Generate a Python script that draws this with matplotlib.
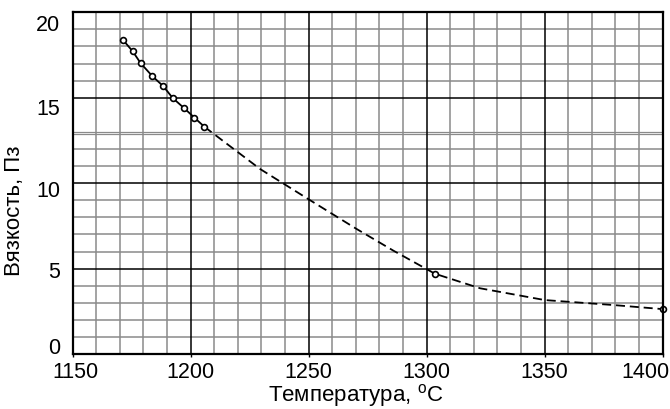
import matplotlib
matplotlib.use("Agg")
import matplotlib.pyplot as plt
import matplotlib.transforms as mtransforms

plt.rcParams['font.family'] = ['Liberation Sans', 'DejaVu Sans']
plt.rcParams['mathtext.fontset'] = 'custom'
plt.rcParams['mathtext.rm'] = 'Liberation Sans'
plt.rcParams['lines.scale_dashes'] = False

# measured points (solid segment with markers)
temp_meas = [1171.2, 1175.4, 1178.8, 1183.7, 1188.4, 1192.4, 1197.3, 1201.6, 1205.8]
visc_meas = [18.40, 17.72, 17.02, 16.27, 15.67, 14.98, 14.38, 13.83, 13.30]

# extrapolated dashed curve
temp_dash = [1205.8, 1229.4, 1249.8, 1270.3, 1285.9, 1303.5, 1322.6, 1350.0, 1379.0, 1400.0]
visc_dash = [13.30, 10.83, 9.07, 7.32, 6.05, 4.70, 3.85, 3.16, 2.87, 2.63]

# isolated marker points on dashed curve
temp_pts = [1303.5, 1400.0]
visc_pts = [4.70, 2.63]

xticks = [1150, 1200, 1250, 1300, 1350, 1400]
yticks = [0, 5, 10, 15, 20]
x_minor = [v for v in range(1160, 1400, 10) if v % 50 != 0]
y_minor = [1, 2, 3, 4, 6, 7, 8, 9, 11, 12, 12.87, 13, 16, 17, 18, 19]

fig = plt.figure(figsize=(6.7, 4.1), dpi=100)
ax = fig.add_axes([0.1085, 0.134, 0.8806, 0.8336])
ax.set_xlim(1150, 1400)
ax.set_ylim(0, 20)

for xv in x_minor:
    ax.axvline(xv, color='#8a8a8a', lw=1.1, zorder=1)
for yv in y_minor:
    ax.axhline(yv, color='#8a8a8a', lw=0.9 if yv in (12.87, 13) else 1.1, zorder=1)
for xv in xticks[1:-1]:
    ax.axvline(xv, color='black', lw=1.1, zorder=2)
for yv in yticks[1:-1]:
    ax.axhline(yv, color='black', lw=1.1, zorder=2)

ax.plot(temp_dash, visc_dash, color='black', lw=1.3, dashes=(6.5, 3.5), zorder=3)
ax.plot(temp_meas, visc_meas, color='black', lw=1.3, marker='o', ms=4.2,
        mfc='white', mec='black', mew=1.2, zorder=4)
ax.plot(temp_pts, visc_pts, ls='none', marker='o', ms=4.2,
        mfc='white', mec='black', mew=1.2, zorder=4, clip_on=False)

ax.set_xticks(xticks)
ax.set_yticks(yticks)
ax.tick_params(axis='x', length=2, width=1, labelsize=15.5, pad=3)
ax.tick_params(axis='y', length=0, width=1, labelsize=15.5, pad=9)
for s in ax.spines.values():
    s.set_linewidth(1.6)
    s.set_zorder(5)

fig.canvas.draw()
# per-label nudges (pixels) as in the reference
ynudge = {0: 9, 5: 0, 10: -5, 15: -8, 20: -10}
for lab, v in zip(ax.get_yticklabels(), yticks):
    lab.set_transform(lab.get_transform() +
                      mtransforms.ScaledTranslation(0, ynudge[v] / 100, fig.dpi_scale_trans))
xnudge = {1150: 3, 1400: -17}
for lab, v in zip(ax.get_xticklabels(), xticks):
    dx = xnudge.get(v, 0)
    lab.set_transform(lab.get_transform() +
                      mtransforms.ScaledTranslation(dx / 100, 0, fig.dpi_scale_trans))

fig.text(356 / 670, 1 - 396 / 410, 'Температура, $^{\\mathrm{o}}$C', fontsize=16,
         ha='center', va='center')
fig.text(15 / 670, 1 - 211 / 410, 'Вязкость, Пз', fontsize=16, rotation=90,
         ha='center', va='center')

fig.savefig('out.png', dpi=100)
